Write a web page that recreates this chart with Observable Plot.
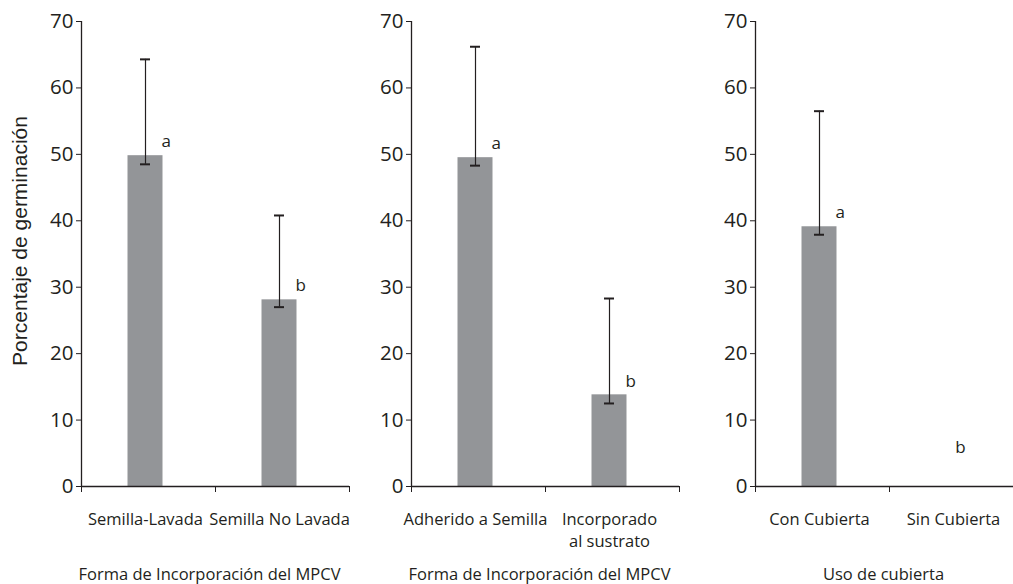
<!DOCTYPE html>
<html>
<head>
<meta charset="utf-8">
<script src="https://cdn.jsdelivr.net/npm/d3@7"></script>
<script src="https://cdn.jsdelivr.net/npm/@observablehq/plot@0.6"></script>
<style>
  html, body { margin: 0; padding: 0; background: #fff; overflow: hidden; }
  #wrap { position: relative; width: 1013px; height: 584px; overflow: hidden; }
  .panel { position: absolute; top: 0; }
  .panel svg { max-width: none !important; }
</style>
</head>
<body>
<div id="wrap"></div>
<script>
// ---- data ----
const yTitle = "Porcentaje de germinación";
const yTicks = [0, 10, 20, 30, 40, 50, 60, 70];

const titles = ["Forma de Incorporación del MPCV", "Forma de Incorporación del MPCV", "Uso de cubierta"];

const cats1 = ["Semilla-Lavada", "Semilla No Lavada"];
const vals1 = [49.8, 28.1];
const lo1 = [48.5, 27.0];
const hi1 = [64.3, 40.8];
const letters1 = ["a", "b"];
const letterY1 = [52.0, 30.3];

const cats2 = ["Adherido a Semilla", "Incorporado\nal sustrato"];
const vals2 = [49.5, 13.8];
const lo2 = [48.3, 12.5];
const hi2 = [66.2, 28.3];
const letters2 = ["a", "b"];
const letterY2 = [51.6, 15.8];

const cats3 = ["Con Cubierta", "Sin Cubierta"];
const vals3 = [39.1, 0];
const lo3 = [37.9, null];
const hi3 = [56.5, null];
const letters3 = ["a", "b"];
const letterY3 = [41.2, 5.9];

// ---- layout ----
const layouts = [
  {left: 0, width: 350, marginLeft: 81},
  {left: 340, width: 340, marginLeft: 71},
  {left: 680, width: 344, marginLeft: 75}
];

const ink = "#231f20";
const barFill = "#939598";

function build(cats, vals, lo, hi, letters, letterY) {
  return cats.map((c, i) => ({i, cat: c, v: vals[i], lo: lo[i], hi: hi[i], letter: letters[i], ly: letterY[i]}));
}

const panels = [
  build(cats1, vals1, lo1, hi1, letters1, letterY1),
  build(cats2, vals2, lo2, hi2, letters2, letterY2),
  build(cats3, vals3, lo3, hi3, letters3, letterY3)
];

const wrap = document.getElementById("wrap");

panels.forEach((rows, p) => {
  const L = layouts[p];
  const n = rows.length;
  const errRows = rows.filter(d => d.hi != null);
  const marks = [
    Plot.rectY(rows, {x1: d => d.i, x2: d => d.i + 1, y: "v", fill: barFill, insetLeft: 46.5, insetRight: 52.5}),
    // error bars
    Plot.ruleX(errRows, {x: d => d.i + 0.5, y1: "lo", y2: "hi", stroke: ink, strokeWidth: 1.2, dx: -3}),
    Plot.ruleY(errRows, {y: "hi", x1: d => d.i + 0.5, x2: d => d.i + 0.5, insetLeft: -5, insetRight: -5, stroke: ink, strokeWidth: 2, dx: -3}),
    Plot.ruleY(errRows, {y: "lo", x1: d => d.i + 0.5, x2: d => d.i + 0.5, insetLeft: -5, insetRight: -5, stroke: ink, strokeWidth: 2, dx: -3}),
    // significance letters
    Plot.text(rows.filter(d => d.v > 0), {x: d => d.i + 0.5, y: "ly", text: "letter", textAnchor: "start", dx: 13, fontSize: 17, fill: ink}),
    Plot.text(rows.filter(d => !(d.v > 0)), {x: d => d.i + 0.5, y: "ly", text: "letter", textAnchor: "middle", dx: 4, fontSize: 17, fill: ink}),
    // axes lines
    Plot.ruleX([0], {stroke: ink, strokeWidth: 1.3}),
    Plot.ruleY([0], {stroke: ink, strokeWidth: 1.3}),
    Plot.axisY({ticks: yTicks, tickSize: 5, tickPadding: 3, fontSize: 20.5, label: null, stroke: ink, fill: ink}),
    Plot.axisX({ticks: d3.range(n + 1), tickSize: 6, tickFormat: () => "", label: null, stroke: ink}),
    // category labels
    Plot.text(rows, {x: d => d.i + 0.5, frameAnchor: "bottom", text: "cat", lineAnchor: "top", dy: 23, dx: -3, fontSize: 16.5, lineHeight: 1.33, fill: ink}),
    // x title
    Plot.text([titles[p]], {x: n / 2, frameAnchor: "bottom", text: d => d, lineAnchor: "middle", dy: 88, dx: -6, fontSize: 16.5, fill: ink})
  ];
  if (p === 0) {
    marks.push(Plot.text([yTitle], {frameAnchor: "left", text: d => d, rotate: -90, textAnchor: "middle", dx: -61, dy: -13, fontSize: 21, fontFamily: "Liberation Sans", fill: ink}));
  }
  const chart = Plot.plot({
    width: L.width,
    height: 584,
    marginLeft: L.marginLeft,
    marginRight: 1,
    marginTop: 21,
    marginBottom: 98,
    style: {fontFamily: "Open Sans", fontSize: "17px", color: ink, background: "transparent", overflow: "visible", maxWidth: "none"},
    x: {domain: [0, n], axis: null},
    y: {domain: [0, 70], axis: null},
    marks
  });
  const div = document.createElement("div");
  div.className = "panel";
  div.style.left = L.left + "px";
  div.style.width = L.width + "px";
  div.appendChild(chart);
  wrap.appendChild(div);
});
</script>
</body>
</html>
